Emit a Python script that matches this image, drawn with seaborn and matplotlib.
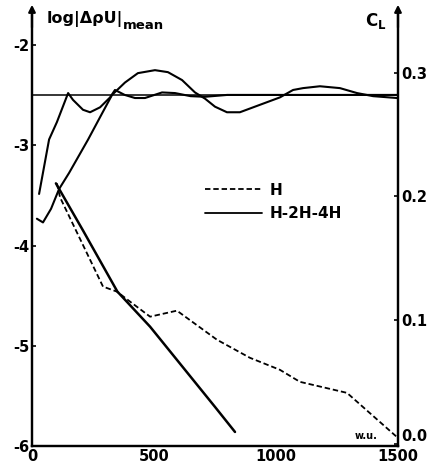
import matplotlib
matplotlib.use("Agg")
import matplotlib.pyplot as plt
import seaborn as sns
from matplotlib.lines import Line2D

# ---------------- data (work units vs. values) ----------------
# residual history log|Δ ρU|_mean, single grid H (dashed)
res_h_wu = [102, 115, 291, 348, 402, 484, 594, 758, 893, 1016, 1098, 1291, 1500]
res_h_val = [-3.38, -3.52, -4.41, -4.46, -4.56, -4.71, -4.65, -4.94, -5.12, -5.24, -5.36, -5.47, -5.92]
# residual history, multigrid H-2H-4H (solid)
res_mg_wu = [98, 209, 350, 484, 750, 832]
res_mg_val = [-3.38, -3.85, -4.46, -4.81, -5.61, -5.86]

# lift coefficient history C_L, single grid H
cl_h_wu = [20, 45, 78, 111, 152, 230, 287, 328, 381, 434, 504, 557, 615, 668, 709,
           750, 799, 852, 934, 1016, 1070, 1111, 1180, 1262, 1332, 1398, 1496]
cl_h_val = [0.182, 0.179, 0.190, 0.206, 0.219, 0.246, 0.267, 0.282, 0.292, 0.2996,
            0.302, 0.3004, 0.294, 0.284, 0.279, 0.2725, 0.268, 0.268, 0.274, 0.280,
            0.286, 0.2875, 0.289, 0.2875, 0.2835, 0.281, 0.2795]
# lift coefficient history, multigrid H-2H-4H
cl_mg_wu = [29, 70, 102, 148, 168, 209, 238, 279, 320, 340, 380, 422, 463, 533, 586,
            650, 709, 800, 1500]
cl_mg_val = [0.202, 0.246, 0.260, 0.2835, 0.278, 0.270, 0.268, 0.272, 0.280, 0.286,
             0.282, 0.2795, 0.2795, 0.284, 0.2835, 0.281, 0.2805, 0.282, 0.282]

# converged lift level
cl_ref_wu = [0, 1500]
cl_ref_val = [0.282, 0.282]

x_ticks = [0, 500, 1000, 1500]
left_ticks = [-6, -5, -4, -3, -2]
right_ticks = [0.0, 0.1, 0.2, 0.3]
legend_labels = ["H", "H-2H-4H"]

# ---------------- style ----------------
sns.set_style("white")
plt.rcParams["font.family"] = ["DejaVu Sans"]
plt.rcParams["axes.unicode_minus"] = False
plt.rcParams["mathtext.fontset"] = "dejavusans"
for k in ("text.color", "axes.labelcolor", "xtick.color", "ytick.color"):
    plt.rcParams[k] = "black"

W, H = 430, 469
fig = plt.figure(figsize=(W / 100, H / 100), dpi=100)
ax = fig.add_axes([32 / W, 23 / H, 366 / W, 436 / H])
ax2 = ax.twinx()

dash_ls = (0, (3, 1.6))

sns.lineplot(x=res_h_wu, y=res_h_val, ax=ax, color="black", lw=1.3,
             linestyle=dash_ls, sort=False, estimator=None)
sns.lineplot(x=res_mg_wu, y=res_mg_val, ax=ax, color="black", lw=1.8,
             sort=False, estimator=None)

sns.lineplot(x=cl_ref_wu, y=cl_ref_val, ax=ax2, color="black", lw=1.1,
             sort=False, estimator=None)
sns.lineplot(x=cl_h_wu, y=cl_h_val, ax=ax2, color="black", lw=1.5,
             sort=False, estimator=None)
sns.lineplot(x=cl_mg_wu, y=cl_mg_val, ax=ax2, color="black", lw=1.5,
             sort=False, estimator=None)

ax.set_xlim(0, 1500)
ax.set_ylim(-6, -6 + 436 / 100.25)
ax2.set_ylim(-0.0016, 0.3506)

for a in (ax, ax2):
    a.spines["top"].set_visible(False)
    for s in ("left", "right", "bottom"):
        a.spines[s].set_linewidth(1.6)
        a.spines[s].set_color("black")
    a.set_xlabel("")
    a.set_ylabel("")

bold = dict(fontweight="bold", fontsize=10.5, color="black")
ax.set_xticks(x_ticks)
ax.set_xticklabels([str(t) for t in x_ticks], **bold)
ax.set_yticks(left_ticks)
ax.set_yticklabels([str(t) for t in left_ticks], **bold)
ax2.set_yticks(right_ticks)
ax2.set_yticklabels([f"{t:.1f}" for t in right_ticks], **bold)
ax2.get_yticklabels()[0].set_va("bottom")
ax.tick_params(axis="both", direction="in", length=3, width=1.2, pad=2, colors="black")
ax2.tick_params(axis="y", direction="in", length=3, width=1.2, pad=2, colors="black")

# axis arrows
for xf in (0, 1):
    ax.annotate("", xy=(xf, 1.012), xytext=(xf, 0.96), xycoords="axes fraction",
                arrowprops=dict(arrowstyle="-|>", color="black", lw=1.6,
                                mutation_scale=10, shrinkA=0, shrinkB=0))

# legend
handles = [Line2D([], [], color="black", lw=1.3, linestyle=dash_ls),
           Line2D([], [], color="black", lw=1.3)]
leg = ax.legend(handles, legend_labels, loc="center left",
                bbox_to_anchor=((205 - 32) / 366, (446 - 202) / 436),
                frameon=False, handlelength=3.7, handletextpad=0.55, labelspacing=0.55,
                borderpad=0, borderaxespad=0, prop=dict(weight="bold", size=11))
for txt in leg.get_texts():
    txt.set_color("black")

# labels
t = fig.text(47 / W, 1 - 19 / H, "log|ΔρU|", fontweight="bold", fontsize=11.5,
             va="center", ha="left", color="black")
ax.annotate("mean", xy=(1, 0.1), xycoords=t, fontweight="bold", fontsize=9.5,
            va="center", ha="left", color="black")
fig.text(376 / W, 1 - 21 / H, r"$\mathbf{C}_{\mathbf{L}}$", fontsize=12,
         va="center", ha="center", color="black")
fig.text(366 / W, 1 - 436 / H, "w.u.", fontweight="bold", fontsize=7,
         va="center", ha="center", color="black")

fig.savefig("out.png", dpi=100)
